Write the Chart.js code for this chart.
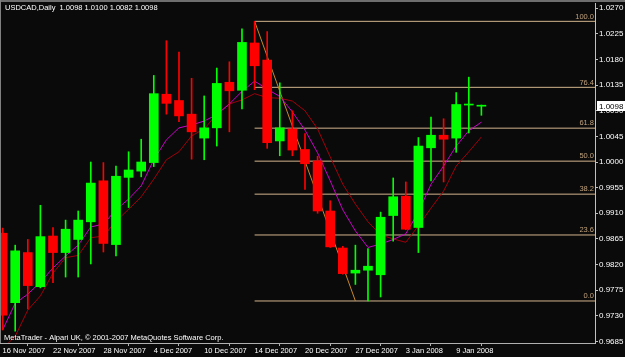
<!DOCTYPE html>
<html><head><meta charset="utf-8">
<script src="https://cdn.jsdelivr.net/npm/chart.js@4.4.1/dist/chart.umd.min.js"></script>
<style>html,body{margin:0;padding:0;background:#0a0a0a;overflow:hidden}#wrap{width:625px;height:357px;position:relative}</style>
</head><body><div id="wrap"><canvas id="c" width="625" height="357"></canvas></div>
<script>
const symbol = 'USDCAD';
const period = 'Daily';
const copyright = 'MetaTrader - Alpari UK, \u00a9 2001-2007 MetaQuotes Software Corp.';
const dates = ['16 Nov 2007','19 Nov 2007','20 Nov 2007','21 Nov 2007','22 Nov 2007','23 Nov 2007','26 Nov 2007','27 Nov 2007','28 Nov 2007','29 Nov 2007','30 Nov 2007','3 Dec 2007','4 Dec 2007','5 Dec 2007','6 Dec 2007','7 Dec 2007','10 Dec 2007','11 Dec 2007','12 Dec 2007','13 Dec 2007','14 Dec 2007','17 Dec 2007','18 Dec 2007','19 Dec 2007','20 Dec 2007','21 Dec 2007','24 Dec 2007','26 Dec 2007','27 Dec 2007','28 Dec 2007','31 Dec 2007','2 Jan 2008','3 Jan 2008','4 Jan 2008','7 Jan 2008','8 Jan 2008','9 Jan 2008','10 Jan 2008','11 Jan 2008'];
const open  = [0.9875,0.9753,0.9841,0.9781,0.9870,0.9841,0.9864,0.9895,0.9967,0.9855,0.9973,0.9984,0.9999,1.0119,1.0108,1.0084,1.0042,1.0060,1.0140,1.0126,1.0209,1.0179,1.0037,1.0058,1.0022,1.0002,0.9914,0.9849,0.9805,0.9810,0.9802,0.9906,0.9940,0.9885,1.0025,1.0047,1.0042,1.0100,1.0098];
const high  = [0.9884,0.9854,0.9864,0.9924,0.9885,0.9898,0.9914,1.0000,0.9999,0.9993,1.0018,1.0040,1.0152,1.0213,1.0193,1.0147,1.0116,1.0165,1.0176,1.0234,1.0247,1.0229,1.0139,1.0090,1.0050,1.0010,0.9932,0.9852,0.9854,0.9848,0.9912,0.9972,0.9965,1.0043,1.0079,1.0076,1.0122,1.0149,1.0100];
const low   = [0.9705,0.9703,0.9742,0.9779,0.9788,0.9798,0.9798,0.9821,0.9842,0.9835,0.9920,0.9974,0.9992,1.0084,1.0071,1.0005,1.0004,1.0028,1.0053,1.0093,1.0127,1.0024,1.0011,1.0011,0.9952,0.9910,0.9850,0.9803,0.9785,0.9756,0.9763,0.9861,0.9881,0.9841,0.9967,0.9965,1.0017,1.0051,1.0082];
const close = [0.9731,0.9844,0.9783,0.9869,0.9841,0.9882,0.9898,0.9963,0.9857,0.9975,0.9986,1.0000,1.0120,1.0103,1.0081,1.0053,1.0060,1.0138,1.0125,1.0210,1.0169,1.0034,1.0060,1.0021,0.9997,0.9914,0.9851,0.9804,0.9810,0.9817,0.9903,0.9939,0.9882,1.0028,1.0047,1.0040,1.0101,1.0100,1.0098];
const maFast = [0.9705,0.9752,0.9768,0.9789,0.9814,0.9835,0.9854,0.9886,0.9891,0.9916,0.9935,0.9958,1.0004,1.0039,1.0060,1.0065,1.0072,1.0083,1.0102,1.0124,1.0142,1.0128,1.0115,1.0088,1.0056,1.0016,0.9967,0.9916,0.9879,0.9850,0.9856,0.9864,0.9874,0.9912,0.9961,0.9993,1.0028,1.0055,1.0070];
const maSlow = [0.9672,0.9694,0.9740,0.9765,0.9805,0.9832,0.9836,0.9867,0.9870,0.9896,0.9917,0.9939,0.9970,1.0004,1.0018,1.0046,1.0058,1.0084,1.0102,1.0109,1.0120,1.0113,1.0112,1.0107,1.0090,1.0058,1.0009,0.9961,0.9926,0.9895,0.9872,0.9865,0.9859,0.9888,0.9919,0.9949,0.9993,1.0018,1.0044];
const fibHigh = 1.0247, fibLow = 0.9756;
const fibStartIndex = 20, fibEndIndex = 28;
const fibLevels = [0, 23.6, 38.2, 50, 61.8, 76.4, 100];
const yTicks = [1.0270,1.0225,1.0180,1.0135,1.0090,1.0045,1.0000,0.9955,0.9910,0.9865,0.9820,0.9775,0.9730,0.9685];
const xTickIndices = [0,4,8,12,16,20,24,28,32,36];

const GREEN = '#00ff00', RED = '#ff0000';
const FONT = 'Liberation Sans';
const X_MIN = -0.206, X_MAX = 47.016;
const candleColor = close.map((c,i) => c < open[i] ? RED : GREEN);
const fibPrice = lv => fibLow + (fibHigh - fibLow) * lv / 100;

const datasets = [
  { type:'bar', label:'body', data: dates.map((d,i)=>({x:i, y:[open[i], close[i]]})),
    backgroundColor: candleColor, borderWidth:0, grouped:false, maxBarThickness:9,
    barPercentage:1, categoryPercentage:1, minBarLength:1, order:0 },
  { type:'bar', label:'wick', data: dates.map((d,i)=>({x:i, y:[low[i], high[i]]})),
    backgroundColor: candleColor, borderWidth:0, grouped:false, maxBarThickness:1,
    barPercentage:1, categoryPercentage:1, order:1 },
  { type:'line', label:'MA fast', data: maFast.map((v,i)=>({x:i,y:v})), borderColor:'#c800c8',
    borderWidth:1, pointRadius:0, tension:0, order:2 },
  { type:'line', label:'MA slow', data: maSlow.map((v,i)=>({x:i,y:v})), borderColor:'#a0000a',
    borderWidth:1, pointRadius:0, tension:0, order:2 },
  { type:'line', label:'fib trend', data:[{x:fibStartIndex,y:fibHigh},{x:fibEndIndex,y:fibLow}],
    borderColor:'#c8882a', borderWidth:1, pointRadius:0, order:3 }
];
fibLevels.forEach(lv => datasets.push({ type:'line', label:'fib '+lv,
  data:[{x:fibStartIndex,y:fibPrice(lv)},{x:X_MAX,y:fibPrice(lv)}],
  borderColor:'#d2b48c', borderWidth:1, pointRadius:0, order:4 }));

const mtPlugin = {
  id:'mt',
  beforeDraw(chart){
    const c = chart.ctx; c.save(); c.fillStyle = '#0a0a0a'; c.fillRect(0,0,chart.width,chart.height); c.restore();
  },
  afterDatasetsDraw(chart){
    const c = chart.ctx, ys = chart.scales.y, a = chart.chartArea;
    c.save(); c.font = '7.5px "'+FONT+'"'; c.fillStyle = '#c0a27c';
    c.textAlign = 'right'; c.textBaseline = 'bottom';
    fibLevels.forEach(lv => c.fillText(lv.toFixed(1), a.right - 1, ys.getPixelForValue(fibPrice(lv)) - 1));
    c.restore();
  },
  afterDraw(chart){
    const c = chart.ctx, ys = chart.scales.y, a = chart.chartArea;
    const n = close.length - 1;
    c.save();
    c.fillStyle = '#6e6e6e'; c.fillRect(0,0,chart.width,2);
    c.fillStyle = '#808080'; c.fillRect(0,0,1,a.bottom);
    c.font = '7.5px "'+FONT+'"'; c.fillStyle = '#ffffff'; c.textBaseline = 'middle'; c.textAlign = 'left';
    c.fillText(symbol+','+period+'  '+[open[n],high[n],low[n],close[n]].map(v=>v.toFixed(4)).join(' '), 5, 8);
    c.fillText(copyright, 4, 337.5);
    const py = Math.round(ys.getPixelForValue(close[n]));
    c.fillStyle = '#ffffff'; c.fillRect(a.right + 2, py - 5, chart.width - a.right - 2, 10);
    c.fillStyle = '#000000'; c.font = '8px "'+FONT+'"';
    c.fillText(close[n].toFixed(4), a.right + 4, py + 0.5);
    c.restore();
  }
};

new Chart(document.getElementById('c'), {
  type:'bar',
  data:{ datasets },
  plugins:[mtPlugin],
  options:{
    responsive:false, animation:false, devicePixelRatio:1,
    layout:{ padding:{ top:3, left:0, right:0, bottom:0 } },
    plugins:{ legend:{display:false}, tooltip:{enabled:false} },
    scales:{
      x:{ type:'linear', position:'bottom', min:X_MIN, max:X_MAX, offset:false,
        afterBuildTicks: s => { s.ticks = xTickIndices.map(v=>({value:v})); },
        afterFit: s => { s.height = 14; s.paddingLeft = 0; s.paddingRight = 0; },
        grid:{ display:true, drawOnChartArea:false, drawTicks:true, tickLength:3, color:'#b0b0b0' },
        border:{ display:true, color:'#b0b0b0' },
        ticks:{ autoSkip:false, maxRotation:0, align:'start', padding:0, color:'#ffffff',
          font:{ family:FONT, size:7.5 }, callback: v => dates[v] }
      },
      y:{ type:'linear', position:'right', min:0.96822, max:1.02792,
        afterBuildTicks: s => { s.ticks = yTicks.map(v=>({value:v})); },
        afterFit: s => { s.width = 30; s.paddingTop = 0; s.paddingBottom = 0; },
        grid:{ display:true, drawOnChartArea:false, drawTicks:true, tickLength:3, color:'#c0c0c0' },
        border:{ display:true, color:'#c0c0c0' },
        ticks:{ padding:1, color:'#ffffff', font:{ family:FONT, size:8 }, callback: v => v.toFixed(4) }
      }
    }
  }
});
</script></body></html>
